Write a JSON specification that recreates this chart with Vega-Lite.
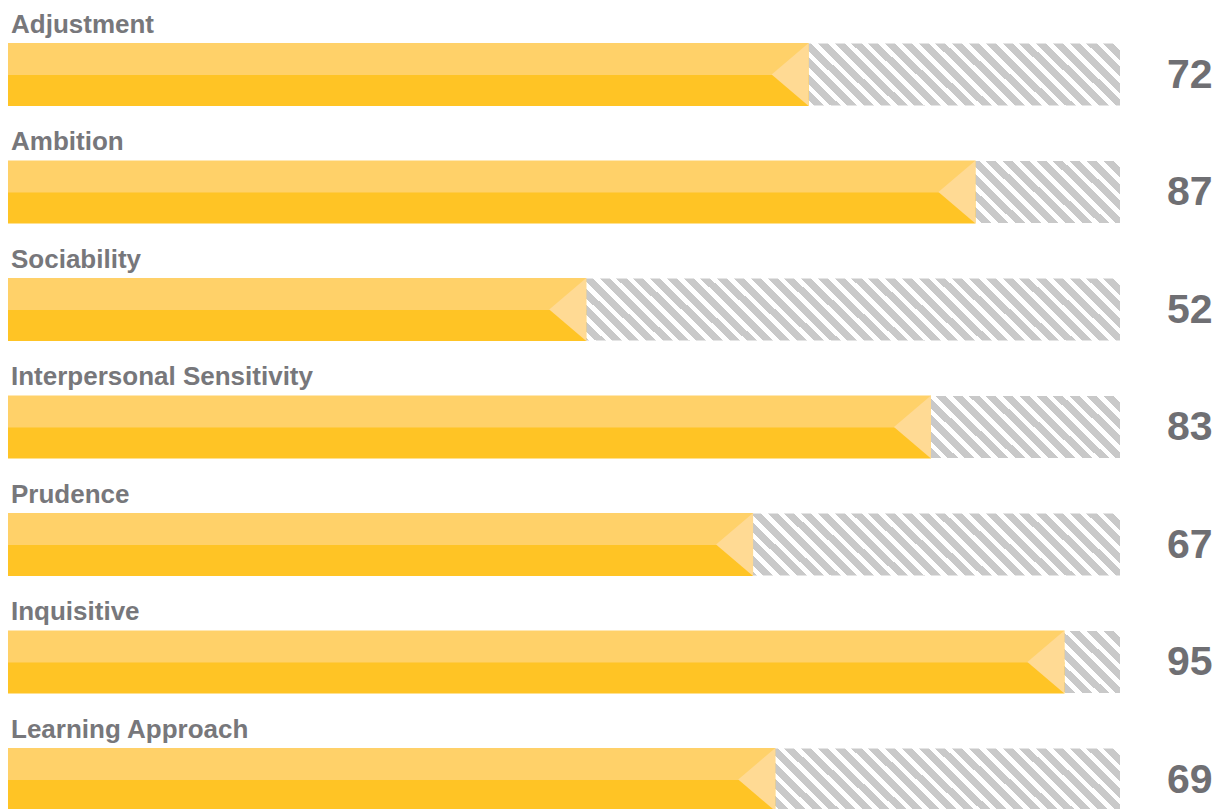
{
  "$schema": "https://vega.github.io/schema/vega-lite/v6.json",
  "width": 1112,
  "height": 809,
  "autosize": {"type": "none"},
  "padding": {"left": 8, "top": 0, "right": 104, "bottom": 0},
  "background": "#ffffff",
  "config": {"view": {"stroke": null}},
  "data": {
    "values": [
      {"scale": "Adjustment", "score": 72},
      {"scale": "Ambition", "score": 87},
      {"scale": "Sociability", "score": 52},
      {"scale": "Interpersonal Sensitivity", "score": 83},
      {"scale": "Prudence", "score": 67},
      {"scale": "Inquisitive", "score": 95},
      {"scale": "Learning Approach", "score": 69}
    ]
  },
  "encoding": {
    "y": {"field": "scale", "type": "nominal", "sort": null, "axis": null,
          "scale": {"range": [0, 822.5], "paddingInner": 0, "paddingOuter": 0}}
  },
  "layer": [
    {
      "mark": {"type": "bar", "height": 62, "yOffset": 15.75,
        "fill": {"gradient": "linear", "x1": 0, "y1": 1, "x2": 1.053277, "y2": 0.940327,
          "stops": [
{"offset":0,"color":"#c9c9c9"},{"offset":0.008571,"color":"#c9c9c9"},{"offset":0.008571,"color":"#ffffff"},{"offset":0.014286,"color":"#ffffff"},
{"offset":0.014286,"color":"#c9c9c9"},{"offset":0.022857,"color":"#c9c9c9"},{"offset":0.022857,"color":"#ffffff"},{"offset":0.028571,"color":"#ffffff"},
{"offset":0.028571,"color":"#c9c9c9"},{"offset":0.037143,"color":"#c9c9c9"},{"offset":0.037143,"color":"#ffffff"},{"offset":0.042857,"color":"#ffffff"},
{"offset":0.042857,"color":"#c9c9c9"},{"offset":0.051429,"color":"#c9c9c9"},{"offset":0.051429,"color":"#ffffff"},{"offset":0.057143,"color":"#ffffff"},
{"offset":0.057143,"color":"#c9c9c9"},{"offset":0.065714,"color":"#c9c9c9"},{"offset":0.065714,"color":"#ffffff"},{"offset":0.071429,"color":"#ffffff"},
{"offset":0.071429,"color":"#c9c9c9"},{"offset":0.08,"color":"#c9c9c9"},{"offset":0.08,"color":"#ffffff"},{"offset":0.085714,"color":"#ffffff"},
{"offset":0.085714,"color":"#c9c9c9"},{"offset":0.094286,"color":"#c9c9c9"},{"offset":0.094286,"color":"#ffffff"},{"offset":0.1,"color":"#ffffff"},
{"offset":0.1,"color":"#c9c9c9"},{"offset":0.108571,"color":"#c9c9c9"},{"offset":0.108571,"color":"#ffffff"},{"offset":0.114286,"color":"#ffffff"},
{"offset":0.114286,"color":"#c9c9c9"},{"offset":0.122857,"color":"#c9c9c9"},{"offset":0.122857,"color":"#ffffff"},{"offset":0.128571,"color":"#ffffff"},
{"offset":0.128571,"color":"#c9c9c9"},{"offset":0.137143,"color":"#c9c9c9"},{"offset":0.137143,"color":"#ffffff"},{"offset":0.142857,"color":"#ffffff"},
{"offset":0.142857,"color":"#c9c9c9"},{"offset":0.151429,"color":"#c9c9c9"},{"offset":0.151429,"color":"#ffffff"},{"offset":0.157143,"color":"#ffffff"},
{"offset":0.157143,"color":"#c9c9c9"},{"offset":0.165714,"color":"#c9c9c9"},{"offset":0.165714,"color":"#ffffff"},{"offset":0.171429,"color":"#ffffff"},
{"offset":0.171429,"color":"#c9c9c9"},{"offset":0.18,"color":"#c9c9c9"},{"offset":0.18,"color":"#ffffff"},{"offset":0.185714,"color":"#ffffff"},
{"offset":0.185714,"color":"#c9c9c9"},{"offset":0.194286,"color":"#c9c9c9"},{"offset":0.194286,"color":"#ffffff"},{"offset":0.2,"color":"#ffffff"},
{"offset":0.2,"color":"#c9c9c9"},{"offset":0.208571,"color":"#c9c9c9"},{"offset":0.208571,"color":"#ffffff"},{"offset":0.214286,"color":"#ffffff"},
{"offset":0.214286,"color":"#c9c9c9"},{"offset":0.222857,"color":"#c9c9c9"},{"offset":0.222857,"color":"#ffffff"},{"offset":0.228571,"color":"#ffffff"},
{"offset":0.228571,"color":"#c9c9c9"},{"offset":0.237143,"color":"#c9c9c9"},{"offset":0.237143,"color":"#ffffff"},{"offset":0.242857,"color":"#ffffff"},
{"offset":0.242857,"color":"#c9c9c9"},{"offset":0.251429,"color":"#c9c9c9"},{"offset":0.251429,"color":"#ffffff"},{"offset":0.257143,"color":"#ffffff"},
{"offset":0.257143,"color":"#c9c9c9"},{"offset":0.265714,"color":"#c9c9c9"},{"offset":0.265714,"color":"#ffffff"},{"offset":0.271429,"color":"#ffffff"},
{"offset":0.271429,"color":"#c9c9c9"},{"offset":0.28,"color":"#c9c9c9"},{"offset":0.28,"color":"#ffffff"},{"offset":0.285714,"color":"#ffffff"},
{"offset":0.285714,"color":"#c9c9c9"},{"offset":0.294286,"color":"#c9c9c9"},{"offset":0.294286,"color":"#ffffff"},{"offset":0.3,"color":"#ffffff"},
{"offset":0.3,"color":"#c9c9c9"},{"offset":0.308571,"color":"#c9c9c9"},{"offset":0.308571,"color":"#ffffff"},{"offset":0.314286,"color":"#ffffff"},
{"offset":0.314286,"color":"#c9c9c9"},{"offset":0.322857,"color":"#c9c9c9"},{"offset":0.322857,"color":"#ffffff"},{"offset":0.328571,"color":"#ffffff"},
{"offset":0.328571,"color":"#c9c9c9"},{"offset":0.337143,"color":"#c9c9c9"},{"offset":0.337143,"color":"#ffffff"},{"offset":0.342857,"color":"#ffffff"},
{"offset":0.342857,"color":"#c9c9c9"},{"offset":0.351429,"color":"#c9c9c9"},{"offset":0.351429,"color":"#ffffff"},{"offset":0.357143,"color":"#ffffff"},
{"offset":0.357143,"color":"#c9c9c9"},{"offset":0.365714,"color":"#c9c9c9"},{"offset":0.365714,"color":"#ffffff"},{"offset":0.371429,"color":"#ffffff"},
{"offset":0.371429,"color":"#c9c9c9"},{"offset":0.38,"color":"#c9c9c9"},{"offset":0.38,"color":"#ffffff"},{"offset":0.385714,"color":"#ffffff"},
{"offset":0.385714,"color":"#c9c9c9"},{"offset":0.394286,"color":"#c9c9c9"},{"offset":0.394286,"color":"#ffffff"},{"offset":0.4,"color":"#ffffff"},
{"offset":0.4,"color":"#c9c9c9"},{"offset":0.408571,"color":"#c9c9c9"},{"offset":0.408571,"color":"#ffffff"},{"offset":0.414286,"color":"#ffffff"},
{"offset":0.414286,"color":"#c9c9c9"},{"offset":0.422857,"color":"#c9c9c9"},{"offset":0.422857,"color":"#ffffff"},{"offset":0.428571,"color":"#ffffff"},
{"offset":0.428571,"color":"#c9c9c9"},{"offset":0.437143,"color":"#c9c9c9"},{"offset":0.437143,"color":"#ffffff"},{"offset":0.442857,"color":"#ffffff"},
{"offset":0.442857,"color":"#c9c9c9"},{"offset":0.451429,"color":"#c9c9c9"},{"offset":0.451429,"color":"#ffffff"},{"offset":0.457143,"color":"#ffffff"},
{"offset":0.457143,"color":"#c9c9c9"},{"offset":0.465714,"color":"#c9c9c9"},{"offset":0.465714,"color":"#ffffff"},{"offset":0.471429,"color":"#ffffff"},
{"offset":0.471429,"color":"#c9c9c9"},{"offset":0.48,"color":"#c9c9c9"},{"offset":0.48,"color":"#ffffff"},{"offset":0.485714,"color":"#ffffff"},
{"offset":0.485714,"color":"#c9c9c9"},{"offset":0.494286,"color":"#c9c9c9"},{"offset":0.494286,"color":"#ffffff"},{"offset":0.5,"color":"#ffffff"},
{"offset":0.5,"color":"#c9c9c9"},{"offset":0.508571,"color":"#c9c9c9"},{"offset":0.508571,"color":"#ffffff"},{"offset":0.514286,"color":"#ffffff"},
{"offset":0.514286,"color":"#c9c9c9"},{"offset":0.522857,"color":"#c9c9c9"},{"offset":0.522857,"color":"#ffffff"},{"offset":0.528571,"color":"#ffffff"},
{"offset":0.528571,"color":"#c9c9c9"},{"offset":0.537143,"color":"#c9c9c9"},{"offset":0.537143,"color":"#ffffff"},{"offset":0.542857,"color":"#ffffff"},
{"offset":0.542857,"color":"#c9c9c9"},{"offset":0.551429,"color":"#c9c9c9"},{"offset":0.551429,"color":"#ffffff"},{"offset":0.557143,"color":"#ffffff"},
{"offset":0.557143,"color":"#c9c9c9"},{"offset":0.565714,"color":"#c9c9c9"},{"offset":0.565714,"color":"#ffffff"},{"offset":0.571429,"color":"#ffffff"},
{"offset":0.571429,"color":"#c9c9c9"},{"offset":0.58,"color":"#c9c9c9"},{"offset":0.58,"color":"#ffffff"},{"offset":0.585714,"color":"#ffffff"},
{"offset":0.585714,"color":"#c9c9c9"},{"offset":0.594286,"color":"#c9c9c9"},{"offset":0.594286,"color":"#ffffff"},{"offset":0.6,"color":"#ffffff"},
{"offset":0.6,"color":"#c9c9c9"},{"offset":0.608571,"color":"#c9c9c9"},{"offset":0.608571,"color":"#ffffff"},{"offset":0.614286,"color":"#ffffff"},
{"offset":0.614286,"color":"#c9c9c9"},{"offset":0.622857,"color":"#c9c9c9"},{"offset":0.622857,"color":"#ffffff"},{"offset":0.628571,"color":"#ffffff"},
{"offset":0.628571,"color":"#c9c9c9"},{"offset":0.637143,"color":"#c9c9c9"},{"offset":0.637143,"color":"#ffffff"},{"offset":0.642857,"color":"#ffffff"},
{"offset":0.642857,"color":"#c9c9c9"},{"offset":0.651429,"color":"#c9c9c9"},{"offset":0.651429,"color":"#ffffff"},{"offset":0.657143,"color":"#ffffff"},
{"offset":0.657143,"color":"#c9c9c9"},{"offset":0.665714,"color":"#c9c9c9"},{"offset":0.665714,"color":"#ffffff"},{"offset":0.671429,"color":"#ffffff"},
{"offset":0.671429,"color":"#c9c9c9"},{"offset":0.68,"color":"#c9c9c9"},{"offset":0.68,"color":"#ffffff"},{"offset":0.685714,"color":"#ffffff"},
{"offset":0.685714,"color":"#c9c9c9"},{"offset":0.694286,"color":"#c9c9c9"},{"offset":0.694286,"color":"#ffffff"},{"offset":0.7,"color":"#ffffff"},
{"offset":0.7,"color":"#c9c9c9"},{"offset":0.708571,"color":"#c9c9c9"},{"offset":0.708571,"color":"#ffffff"},{"offset":0.714286,"color":"#ffffff"},
{"offset":0.714286,"color":"#c9c9c9"},{"offset":0.722857,"color":"#c9c9c9"},{"offset":0.722857,"color":"#ffffff"},{"offset":0.728571,"color":"#ffffff"},
{"offset":0.728571,"color":"#c9c9c9"},{"offset":0.737143,"color":"#c9c9c9"},{"offset":0.737143,"color":"#ffffff"},{"offset":0.742857,"color":"#ffffff"},
{"offset":0.742857,"color":"#c9c9c9"},{"offset":0.751429,"color":"#c9c9c9"},{"offset":0.751429,"color":"#ffffff"},{"offset":0.757143,"color":"#ffffff"},
{"offset":0.757143,"color":"#c9c9c9"},{"offset":0.765714,"color":"#c9c9c9"},{"offset":0.765714,"color":"#ffffff"},{"offset":0.771429,"color":"#ffffff"},
{"offset":0.771429,"color":"#c9c9c9"},{"offset":0.78,"color":"#c9c9c9"},{"offset":0.78,"color":"#ffffff"},{"offset":0.785714,"color":"#ffffff"},
{"offset":0.785714,"color":"#c9c9c9"},{"offset":0.794286,"color":"#c9c9c9"},{"offset":0.794286,"color":"#ffffff"},{"offset":0.8,"color":"#ffffff"},
{"offset":0.8,"color":"#c9c9c9"},{"offset":0.808571,"color":"#c9c9c9"},{"offset":0.808571,"color":"#ffffff"},{"offset":0.814286,"color":"#ffffff"},
{"offset":0.814286,"color":"#c9c9c9"},{"offset":0.822857,"color":"#c9c9c9"},{"offset":0.822857,"color":"#ffffff"},{"offset":0.828571,"color":"#ffffff"},
{"offset":0.828571,"color":"#c9c9c9"},{"offset":0.837143,"color":"#c9c9c9"},{"offset":0.837143,"color":"#ffffff"},{"offset":0.842857,"color":"#ffffff"},
{"offset":0.842857,"color":"#c9c9c9"},{"offset":0.851429,"color":"#c9c9c9"},{"offset":0.851429,"color":"#ffffff"},{"offset":0.857143,"color":"#ffffff"},
{"offset":0.857143,"color":"#c9c9c9"},{"offset":0.865714,"color":"#c9c9c9"},{"offset":0.865714,"color":"#ffffff"},{"offset":0.871429,"color":"#ffffff"},
{"offset":0.871429,"color":"#c9c9c9"},{"offset":0.88,"color":"#c9c9c9"},{"offset":0.88,"color":"#ffffff"},{"offset":0.885714,"color":"#ffffff"},
{"offset":0.885714,"color":"#c9c9c9"},{"offset":0.894286,"color":"#c9c9c9"},{"offset":0.894286,"color":"#ffffff"},{"offset":0.9,"color":"#ffffff"},
{"offset":0.9,"color":"#c9c9c9"},{"offset":0.908571,"color":"#c9c9c9"},{"offset":0.908571,"color":"#ffffff"},{"offset":0.914286,"color":"#ffffff"},
{"offset":0.914286,"color":"#c9c9c9"},{"offset":0.922857,"color":"#c9c9c9"},{"offset":0.922857,"color":"#ffffff"},{"offset":0.928571,"color":"#ffffff"},
{"offset":0.928571,"color":"#c9c9c9"},{"offset":0.937143,"color":"#c9c9c9"},{"offset":0.937143,"color":"#ffffff"},{"offset":0.942857,"color":"#ffffff"},
{"offset":0.942857,"color":"#c9c9c9"},{"offset":0.951429,"color":"#c9c9c9"},{"offset":0.951429,"color":"#ffffff"},{"offset":0.957143,"color":"#ffffff"},
{"offset":0.957143,"color":"#c9c9c9"},{"offset":0.965714,"color":"#c9c9c9"},{"offset":0.965714,"color":"#ffffff"},{"offset":0.971429,"color":"#ffffff"},
{"offset":0.971429,"color":"#c9c9c9"},{"offset":0.98,"color":"#c9c9c9"},{"offset":0.98,"color":"#ffffff"},{"offset":0.985714,"color":"#ffffff"},
{"offset":0.985714,"color":"#c9c9c9"},{"offset":0.994286,"color":"#c9c9c9"},{"offset":0.994286,"color":"#ffffff"},{"offset":1,"color":"#ffffff"}
          ]}},
      "encoding": {
        "x": {"datum": 0, "type": "quantitative", "axis": null,
              "scale": {"domain": [0, 100], "nice": false, "zero": false}},
        "x2": {"datum": 100}
      }
    },
    {
      "mark": {"type": "bar", "height": 33, "yOffset": 0.75, "fill": "#ffd169"},
      "encoding": {
        "x": {"field": "score", "type": "quantitative"},
        "x2": {"datum": 0}
      }
    },
    {
      "mark": {"type": "bar", "height": 31, "yOffset": 31.75, "fill": "#ffc425"},
      "encoding": {
        "x": {"field": "score", "type": "quantitative"},
        "x2": {"datum": 0}
      }
    },
    {
      "mark": {"type": "point", "shape": "M0,-1L0,1L-1.175,0Z", "size": 3969,
               "filled": true, "fill": "#ffda94", "opacity": 1, "strokeWidth": 0, "yOffset": 15.75},
      "encoding": {
        "x": {"field": "score", "type": "quantitative"}
      }
    },
    {
      "mark": {"type": "text", "align": "left", "baseline": "alphabetic", "dx": 3, "dy": -26,
               "font": "Liberation Sans", "fontWeight": "bold", "fontSize": 26, "fill": "#77777b"},
      "encoding": {
        "x": {"datum": 0, "type": "quantitative"},
        "text": {"field": "scale"}
      }
    },
    {
      "mark": {"type": "text", "align": "left", "baseline": "alphabetic", "dx": 47, "dy": 29,
               "font": "Liberation Sans", "fontWeight": "bold", "fontSize": 41, "fill": "#6f6f73"},
      "encoding": {
        "x": {"datum": 100, "type": "quantitative"},
        "text": {"field": "score"}
      }
    }
  ]
}
